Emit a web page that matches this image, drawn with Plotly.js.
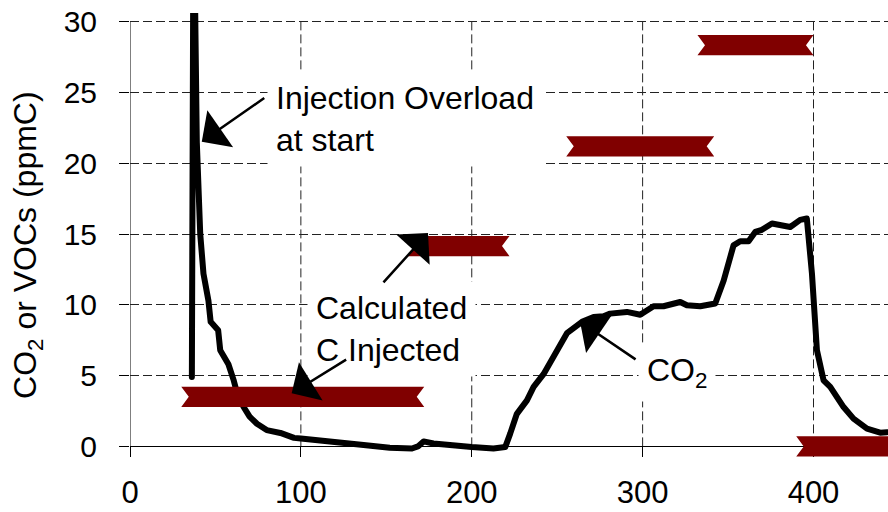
<!DOCTYPE html>
<html><head><meta charset="utf-8">
<script src="https://cdn.plot.ly/plotly-3.0.1.min.js"></script>
<style>html,body{margin:0;padding:0;background:#fff}#chart{width:888px;height:512px}
.js-line{stroke-linejoin:round;stroke-linecap:round}</style>
</head><body><div id="chart"></div>
<script>
// CO2 trace (time, ppmC)
const co2Time = [36.2, 37.2, 39.1, 40.0, 41.1, 43.0, 45.9, 47.2, 49.9, 51.6, 52.8, 55.7, 57.6, 60.6, 63.0, 66.4, 70.0, 74.3, 80.0, 88.0, 96.0, 100.0, 117.0, 136.7, 152.0, 165.0, 168.5, 171.8, 177.6, 189.3, 200.0, 212.7, 219.6, 222.5, 226.4, 232.3, 236.2, 242.0, 249.8, 255.7, 264.5, 271.3, 277.1, 281.0, 290.8, 298.6, 306.4, 312.2, 322.0, 325.9, 333.7, 342.5, 347.4, 353.2, 357.1, 362.0, 365.9, 369.8, 375.7, 386.4, 392.2, 396.1, 399.1, 402.0, 405.9, 409.8, 417.6, 423.4, 431.3, 439.0, 443.0];
const co2Value = [4.9, 40, 21.5, 17.5, 15.0, 12.2, 10.3, 8.8, 8.5, 8.2, 6.8, 6.3, 5.8, 4.7, 3.6, 2.8, 2.1, 1.6, 1.15, 0.95, 0.6, 0.55, 0.38, 0.1, -0.1, -0.15, 0.0, 0.35, 0.2, 0.12, -0.05, -0.15, -0.05, 0.9, 2.3, 3.25, 4.2, 5.1, 6.8, 8.0, 8.8, 9.14, 9.19, 9.38, 9.5, 9.3, 9.9, 9.9, 10.2, 9.97, 9.9, 10.1, 11.7, 14.2, 14.5, 14.5, 15.15, 15.3, 15.75, 15.5, 16.0, 16.1, 12.2, 6.8, 4.67, 4.2, 2.78, 1.96, 1.25, 0.97, 1.0];

// Calculated C injected (step segments)
const injStart = [30.0, 162.6, 255.3, 332.1, 389.9];
const injEnd   = [172.2, 222.1, 341.9, 400.0, 470.0];
const injValue = [3.5, 14.15, 21.2, 28.35, 0];

const xTicks = [0, 100, 200, 300, 400];
const yTicks = [0, 5, 10, 15, 20, 25, 30];

// band drawing style (notched ribbon)
const NOTCH = 4.4;   // x units
const HALF = 0.71;   // y units
const bx = [], by = [];
for (let i = 0; i < injStart.length; i++) {
  const s = injStart[i], e = injEnd[i], v = injValue[i];
  bx.push(s, e, e - NOTCH, e, s, s + NOTCH, s, null);
  by.push(v + HALF, v + HALF, v, v - HALF, v - HALF, v, v + HALF, null);
}

const FONT = 'Liberation Sans, Arial, sans-serif';
const YMIN = -0.75, YMAX = 30.62;

const traces = [
  { x: co2Time, y: co2Value, type: 'scatter', mode: 'lines', name: 'CO2',
    line: { color: '#000', width: 6 }, hoverinfo: 'skip' },
  { x: bx, y: by, type: 'scatter', mode: 'lines', name: 'Calculated C Injected',
    fill: 'toself', fillcolor: '#800000', line: { width: 0, color: '#800000' },
    connectgaps: false, hoverinfo: 'skip' }
];

const shapes = [];
xTicks.slice(1).forEach(t => shapes.push({ type: 'line', layer: 'below', xref: 'x', yref: 'y',
  x0: t, x1: t, y0: 0, y1: 30, line: { color: '#222', width: 1, dash: '9px,4px' } }));
shapes.push({ type: 'line', layer: 'below', xref: 'x', yref: 'y', x0: 0, x1: 0, y0: 0, y1: 30,
  line: { color: '#000', width: 1 } });

const txtFont = { family: FONT, size: 32, color: '#000' };
const arrowStyle = { showarrow: true, arrowhead: 1, arrowsize: 3, arrowwidth: 2.5, arrowcolor: '#000',
  text: '', font: { size: 1 }, borderpad: 0, axref: 'pixel', ayref: 'pixel', standoff: 0 };

const annotations = [
  { xref: 'x', yref: 'y', x: 80.2, y: 26.52, xanchor: 'left', yanchor: 'top', align: 'left',
    text: 'Injection Overload<br>at start', showarrow: false, bgcolor: '#fff', borderpad: 8, font: txtFont },
  { xref: 'x', yref: 'y', x: 103.6, y: 11.69, xanchor: 'left', yanchor: 'top', align: 'left',
    text: 'Calculated<br>C Injected', showarrow: false, bgcolor: '#fff', borderpad: 8, font: txtFont },
  { xref: 'x', yref: 'y', x: 297.3, y: 7.31, xanchor: 'left', yanchor: 'top', align: 'left',
    text: 'CO<sub>2</sub>', showarrow: false, bgcolor: '#fff', borderpad: 8, font: txtFont },
  Object.assign({ xref: 'x', yref: 'y', x: 42.0, y: 21.53, ax: 63, ay: -44 }, arrowStyle),
  Object.assign({ xref: 'x', yref: 'y', x: 174.4, y: 15.08, ax: -45, ay: 50 }, arrowStyle),
  Object.assign({ xref: 'x', yref: 'y', x: 94.6, y: 3.75, ax: 55, ay: -34 }, arrowStyle),
  Object.assign({ xref: 'x', yref: 'y', x: 263.4, y: 8.81, ax: 56, ay: 38 }, arrowStyle),
  { xref: 'paper', yref: 'paper', x: -0.1346, y: 0.4775, xanchor: 'center', yanchor: 'middle',
    textangle: -90, showarrow: false, text: 'CO<sub>2</sub> or VOCs (ppmC)',
    font: { family: FONT, size: 32, color: '#000' } }
];

const layout = {
  width: 888, height: 512,
  margin: { l: 130, r: 0, t: 13, b: 55 },
  paper_bgcolor: '#fff', plot_bgcolor: '#fff',
  showlegend: false,
  xaxis: {
    range: [0, 443.6], tickvals: xTicks, ticktext: xTicks.map(String),
    showgrid: false, zeroline: false, showline: true, linecolor: '#000', linewidth: 1,
    ticks: 'outside', ticklen: 10, tickcolor: '#000', tickwidth: 1,
    anchor: 'free', position: (0 - YMIN) / (YMAX - YMIN), layer: 'below traces',
    tickfont: { family: FONT, size: 31, color: '#000' }, ticklabelstandoff: 8
  },
  yaxis: {
    range: [YMIN, YMAX], tickvals: yTicks, ticktext: yTicks.map(String),
    showgrid: true, gridcolor: '#222', gridwidth: 1, griddash: '9px,4px',
    zeroline: false, showline: false,
    ticks: 'outside', ticklen: 10, tickcolor: '#000', tickwidth: 1,
    tickfont: { family: FONT, size: 30, color: '#000' }, ticklabelstandoff: 16
  },
  shapes: shapes,
  annotations: annotations
};

Plotly.newPlot('chart', traces, layout, { staticPlot: true, displayModeBar: false });
</script></body></html>
